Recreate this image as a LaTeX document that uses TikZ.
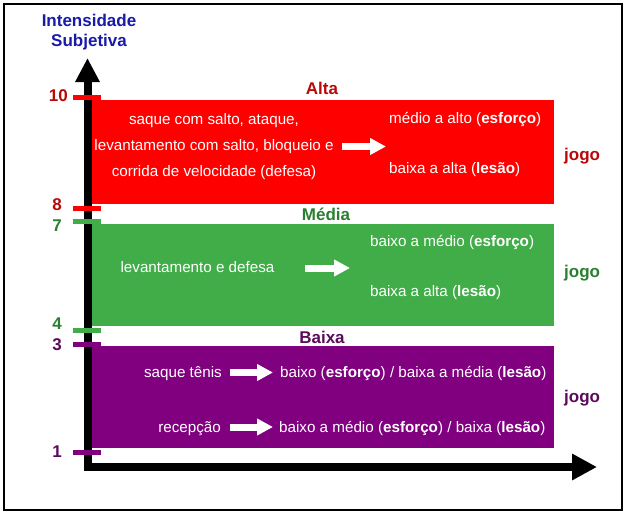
\documentclass[tikz,border=0pt]{standalone}
\usepackage{fontspec}
\setmainfont{Liberation Sans}
\usetikzlibrary{arrows.meta}
\definecolor{boxred}{HTML}{FF0000}
\definecolor{boxgreen}{HTML}{40AD48}
\definecolor{boxpurple}{HTML}{800080}
\definecolor{txtred}{HTML}{B80808}
\definecolor{txtgreen}{HTML}{2A7F30}
\definecolor{txtpurple}{HTML}{5C0A5C}
\definecolor{txtblue}{HTML}{1A1AA8}
\begin{document}
\begin{tikzpicture}[x=1pt,y=-1pt,
  body/.style={inner sep=0pt,text=white,font=\fontsize{15.2}{18}\selectfont},
  lbl/.style={inner sep=0pt,font=\bfseries\fontsize{17}{20}\selectfont},
  num/.style={lbl,anchor=east},
  band/.style={inner sep=0pt,outer sep=0pt,minimum width=466pt,minimum height=104pt,anchor=north west},
  tickmark/.style={line width=5pt},
  whitearrow/.style={white,line width=7pt,-{Triangle[length=16pt,width=16pt]}},
  axisline/.style={line width=8pt,black}
]
\useasboundingbox (0,0) rectangle (627,514);
\fill[white] (0,0) rectangle (627,514);
\draw[line width=1.2pt] (4,4) rectangle (622,510);

% bands
\node[band,fill=boxred] (alta) at (88,100) {};
\node[band,fill=boxgreen,minimum height=102pt] (media) at (88,224) {};
\node[band,fill=boxpurple,minimum height=102pt] (baixa) at (88,346) {};

% axes
\coordinate (origin) at (87.5,471);
\coordinate (ytop) at (87.5,58);
\coordinate (xstart) at (83.5,467);
\coordinate (xend) at (597,467);
\draw[axisline,-{Triangle[length=24pt,width=23pt]}] (origin) -- (ytop);
\draw[axisline,-{Triangle[length=25pt,width=25pt]}] (xstart) -- (xend);

% ticks
\draw[tickmark,boxred] (73,97.5) -- (101,97.5);
\draw[tickmark,boxred] (73,208) -- (101,208);
\draw[tickmark,boxgreen] (73,221) -- (101,221);
\draw[tickmark,boxgreen] (73,330) -- (101,330);
\draw[tickmark,boxpurple] (73,344.5) -- (101,344.5);
\draw[tickmark,boxpurple] (73,452) -- (101,452);

% numbers
\node[num,text=txtred] (n10) at (68,95.5) {10};
\node[num,text=txtred] (n8) at (62,204.5) {8};
\node[num,text=txtgreen] (n7) at (62,226) {7};
\node[num,text=txtgreen] (n4) at (62,324) {4};
\node[num,text=txtpurple] (n3) at (62,345) {3};
\node[num,text=txtpurple] (n1) at (62,452) {1};

% heading
\node[lbl,text=txtblue,anchor=base] (h1) at (89,27) {Intensidade};
\node[lbl,text=txtblue,anchor=base] (h2) at (89,46) {Subjetiva};

% band labels
\node[lbl,text=txtred,anchor=base] (lalta) at (322,94) {Alta};
\node[lbl,text=txtgreen,anchor=base] (lmedia) at (326,220) {Média};
\node[lbl,text=txtpurple,anchor=base] (lbaixa) at (322,343) {Baixa};

% jogo
\node[lbl,text=txtred,anchor=base west] (j1) at (564,160.5) {jogo};
\node[lbl,text=txtgreen,anchor=base west] (j2) at (564,277.5) {jogo};
\node[lbl,text=txtpurple,anchor=base west] (j3) at (564,402) {jogo};

% red band texts
\node[body,anchor=base] (r1) at (214,124) {saque com salto, ataque,};
\node[body,anchor=base] (r2) at (214,150.5) {levantamento com salto, bloqueio e};
\node[body,anchor=base] (r3) at (214,176.5) {corrida de velocidade (defesa)};
\node[body,anchor=base west] (r4) at (389,123) {médio a alto (\textbf{esforço})};
\node[body,anchor=base west] (r5) at (389,173) {baixa a alta (\textbf{lesão})};
\coordinate (ra1) at (342,146.5);
\coordinate (ra2) at (386,146.5);
\draw[whitearrow] (ra1) -- (ra2);

% green band texts
\node[body,anchor=base] (g1) at (197.5,272) {levantamento e defesa};
\node[body,anchor=base west] (g2) at (370,246) {baixo a médio (\textbf{esforço})};
\node[body,anchor=base west] (g3) at (370,296) {baixa a alta (\textbf{lesão})};
\coordinate (ga1) at (305,268);
\coordinate (ga2) at (350,268);
\draw[whitearrow] (ga1) -- (ga2);

% purple band texts
\node[body,anchor=base east] (p1) at (222,377) {saque tênis};
\node[body,anchor=base west] (p2) at (280,377) {baixo (\textbf{esforço}) / baixa a média (\textbf{lesão})};
\node[body,anchor=base east] (p3) at (221,432) {recepção};
\node[body,anchor=base west] (p4) at (279,432) {baixo a médio (\textbf{esforço}) / baixa (\textbf{lesão})};
\coordinate (pa1) at (230,372.5);
\coordinate (pa2) at (273,372.5);
\coordinate (pa3) at (230,427);
\coordinate (pa4) at (273,427);
\draw[whitearrow] (pa1) -- (pa2);
\draw[whitearrow] (pa3) -- (pa4);
\end{tikzpicture}
\end{document}
